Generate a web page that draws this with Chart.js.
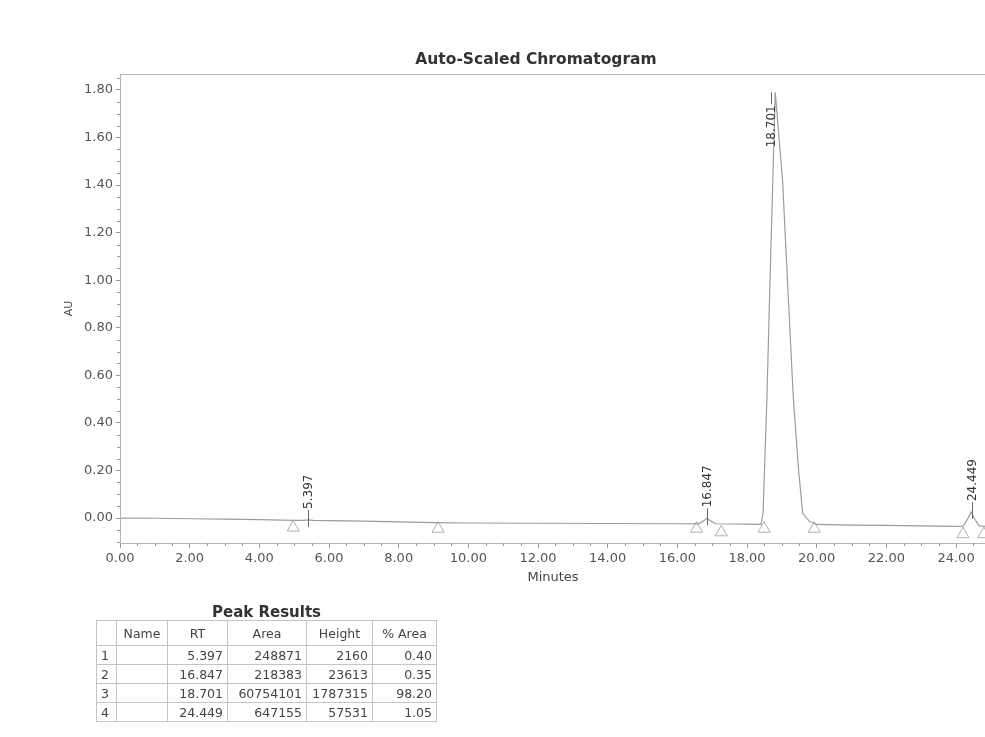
<!DOCTYPE html>
<html>
<head>
<meta charset="utf-8">
<script src="https://cdn.jsdelivr.net/npm/chart.js@4/dist/chart.umd.min.js"></script>
<style>
  html, body { margin: 0; padding: 0; background: #fff; overflow: hidden; }
  #wrap { position: relative; width: 1072px; height: 737px; }
  #peaks { position: absolute; left: 96px; top: 604px; font-family: "DejaVu Sans", sans-serif; color: #444; }
  #peaks .cap { text-align: center; font-weight: bold; font-size: 15px; height: 16px; line-height: 16px; color: #333; }
  #peaks table { border-collapse: collapse; table-layout: fixed; font-size: 12.5px; }
  #peaks td, #peaks th { border: 1px solid #c4c4c4; padding: 0 4px; height: 18px; text-align: right; font-weight: normal; overflow: hidden; white-space: nowrap; }
  #peaks th { height: 24px; text-align: center; }
  #peaks td.idx { text-align: left; }
</style>
</head>
<body>
<div id="wrap">
  <canvas id="c" width="1072" height="737"></canvas>
  <div id="peaks"><div class="cap">Peak Results</div><table id="tbl"></table></div>
</div>
<script>
// trace (minutes, AU)
var traceTime = [0, 1, 2, 3, 4, 5, 5.25, 5.40, 5.55, 6, 7, 8, 9, 10, 12, 14, 16,
  16.6, 16.75, 16.85, 16.95, 17.1, 18, 18.4, 18.46, 18.57, 18.66, 18.74, 18.81,
  19.02, 19.16, 19.33, 19.48, 19.6, 19.8, 20, 21, 22, 23, 24, 24.2, 24.35, 24.43,
  24.52, 24.66, 25, 26];
var traceAU = [0.000, -0.001, -0.003, -0.005, -0.007, -0.010, -0.010, -0.008, -0.010, -0.011, -0.013, -0.016, -0.019, -0.021, -0.022, -0.023, -0.024,
  -0.025, -0.012, -0.001, -0.012, -0.024, -0.026, -0.027, 0.02, 0.50, 1.00, 1.42, 1.79,
  1.42, 1.00, 0.50, 0.20, 0.02, -0.015, -0.027, -0.030, -0.031, -0.033, -0.035, -0.034, 0.000, 0.025,
  0.000, -0.033, -0.036, -0.037];

// baseline start/end markers
var markerTime = [4.97, 9.13, 16.55, 17.26, 18.49, 19.93, 24.2, 24.8];
var markerAU = [-0.040, -0.045, -0.045, -0.060, -0.045, -0.045, -0.068, -0.068];

// peak table
var peakNo = [1, 2, 3, 4];
var peakName = ['', '', '', ''];
var peakRT = [5.397, 16.847, 18.701, 24.449];
var peakArea = [248871, 218383, 60754101, 647155];
var peakHeight = [2160, 23613, 1787315, 57531];
var peakPct = [0.40, 0.35, 98.20, 1.05];
var tableHead = ['', 'Name', 'RT', 'Area', 'Height', '% Area'];

var xTicks = [0, 2, 4, 6, 8, 10, 12, 14, 16, 18, 20, 22, 24];
var yTicks = [0, 0.2, 0.4, 0.6, 0.8, 1.0, 1.2, 1.4, 1.6, 1.8];

var font = '"DejaVu Sans", sans-serif';

// table
var colW = [20, 51, 60, 79, 66, 64];
var html = '<colgroup>' + colW.map(function(w) { return '<col style="width:' + w + 'px">'; }).join('') + '</colgroup>';
html += '<tr>' + tableHead.map(function(h) { return '<th>' + h + '</th>'; }).join('') + '</tr>';
html += peakNo.map(function(n, i) {
  return '<tr><td class="idx">' + n + '</td><td>' + peakName[i] + '</td><td>' + peakRT[i].toFixed(3) +
    '</td><td>' + peakArea[i] + '</td><td>' + peakHeight[i] + '</td><td>' + peakPct[i].toFixed(2) + '</td></tr>';
}).join('');
var tbl = document.getElementById('tbl');
tbl.innerHTML = html;
tbl.style.width = colW.reduce(function(s, w) { return s + w; }, 0) + 'px';

var points = traceTime.map(function(t, i) { return {x: t, y: traceAU[i]}; });
var markers = markerTime.map(function(t, i) { return {x: t, y: markerAU[i]}; });

// title, frame, minor ticks, peak labels
var decor = {
  id: 'decor',
  afterDraw: function(chart) {
    var ctx = chart.ctx, a = chart.chartArea;
    var xs = chart.scales.x, ys = chart.scales.y;
    ctx.save();
    ctx.strokeStyle = '#b5b5b5';
    ctx.lineWidth = 1;
    ctx.strokeRect(a.left + 0.5, a.top + 0.5, a.right - a.left, a.bottom - a.top);

    ctx.strokeStyle = '#999';
    ctx.beginPath();
    for (var k = -2; k * 0.05 <= ys.max; k++) {
      if (k % 4 === 0) continue;
      var py = Math.round(ys.getPixelForValue(k * 0.05)) + 0.5;
      if (py > a.bottom || py < a.top) continue;
      ctx.moveTo(a.left - 3, py); ctx.lineTo(a.left, py);
    }
    for (var j = 1; j * 0.5 <= xs.max; j++) {
      if (j % 4 === 0) continue;
      var px = Math.round(xs.getPixelForValue(j * 0.5)) + 0.5;
      ctx.moveTo(px, a.bottom); ctx.lineTo(px, a.bottom + 3);
    }
    ctx.stroke();

    ctx.font = '12px ' + font;
    ctx.fillStyle = '#333';
    ctx.strokeStyle = '#666';
    ctx.textBaseline = 'middle';
    peakRT.forEach(function(rt) {
      var top = -1;
      traceTime.forEach(function(t, i) {
        if (Math.abs(t - rt) < 0.25 && traceAU[i] > top) top = traceAU[i];
      });
      var px = Math.round(xs.getPixelForValue(rt)) + 0.5;
      var apex = ys.getPixelForValue(top);
      var label = rt.toFixed(3);
      var w = ctx.measureText(label).width;
      ctx.beginPath();
      ctx.save();
      if (apex - 14 - w < a.top) {
        ctx.moveTo(px, apex); ctx.lineTo(px, apex + 12); ctx.stroke();
        ctx.translate(px, apex + 13);
        ctx.rotate(-Math.PI / 2);
        ctx.textAlign = 'right';
      } else {
        ctx.moveTo(px, apex - 10); ctx.lineTo(px, apex + 7); ctx.stroke();
        ctx.translate(px, apex - 11);
        ctx.rotate(-Math.PI / 2);
        ctx.textAlign = 'left';
      }
      ctx.fillText(label, 0, 0);
      ctx.restore();
    });

    ctx.textAlign = 'center';
    ctx.font = 'bold 15.5px ' + font;
    ctx.fillStyle = '#333';
    ctx.fillText('Auto-Scaled Chromatogram', 536, 60);
    ctx.font = '13px ' + font;
    ctx.fillStyle = '#444';
    ctx.fillText('Minutes', (a.left + a.right) / 2, 578);
    ctx.restore();
  }
};

new Chart(document.getElementById('c'), {
  type: 'scatter',
  data: {
    datasets: [{
      data: points,
      showLine: true,
      borderColor: '#9c9c9c',
      borderWidth: 1.2,
      pointRadius: 0,
      tension: 0
    }, {
      data: markers,
      pointStyle: 'triangle',
      pointRadius: 7,
      borderColor: '#b0b0b0',
      backgroundColor: 'rgba(0,0,0,0)',
      borderWidth: 1
    }]
  },
  options: {
    responsive: false,
    animation: false,
    devicePixelRatio: 1,
    layout: { padding: { left: 0, right: 86, top: 74, bottom: 0 } },
    plugins: {
      legend: { display: false },
      tooltip: { enabled: false },
      title: { display: false }
    },
    scales: {
      x: {
        type: 'linear',
        min: 0,
        max: 24.86,
        afterFit: function(s) { s.height = 194; },
        afterBuildTicks: function(s) { s.ticks = xTicks.map(function(v) { return {value: v}; }); },
        ticks: {
          color: '#555',
          font: { family: font, size: 13 },
          padding: 3,
          maxRotation: 0,
          callback: function(v) { return v.toFixed(2); }
        },
        grid: { drawOnChartArea: false, tickLength: 5, tickColor: '#999' },
        border: { display: true, color: '#b5b5b5' }
      },
      y: {
        type: 'linear',
        min: -0.105,
        max: 1.867,
        afterFit: function(s) { s.width = 120; },
        afterBuildTicks: function(s) { s.ticks = yTicks.map(function(v) { return {value: v}; }); },
        ticks: {
          color: '#555',
          font: { family: font, size: 13 },
          padding: 3,
          callback: function(v) { return v.toFixed(2); }
        },
        title: {
          display: true,
          text: 'AU',
          color: '#444',
          font: { family: font, size: 11 },
          padding: { top: 63, bottom: 0 }
        },
        grid: { drawOnChartArea: false, tickLength: 4, tickColor: '#999' },
        border: { display: true, color: '#b5b5b5' }
      }
    }
  },
  plugins: [decor]
});
</script>
</body>
</html>
